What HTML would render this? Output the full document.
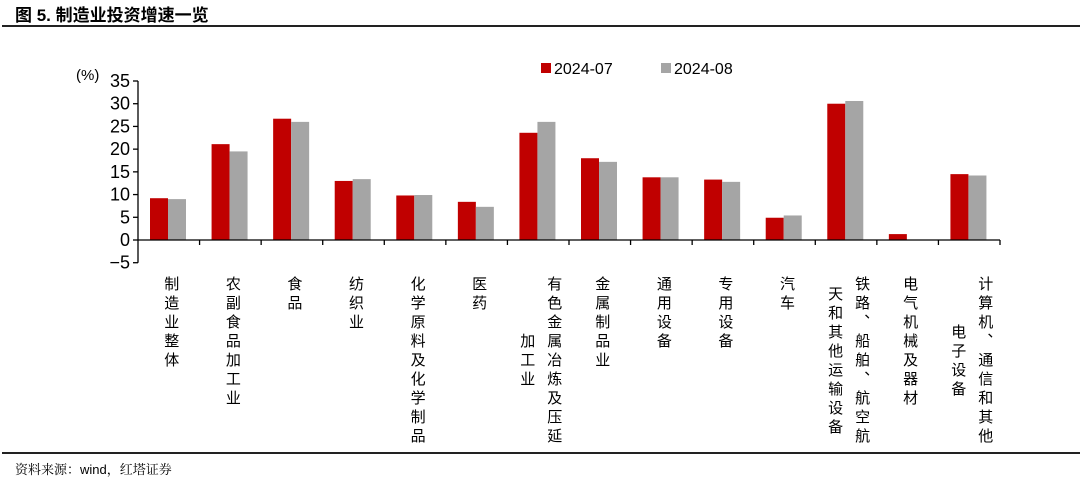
<!DOCTYPE html>
<html><head><meta charset="utf-8">
<style>
body{margin:0;width:1080px;height:479px;background:#fff;font-family:"Liberation Sans","Noto Sans CJK SC",sans-serif;position:relative;overflow:hidden}
.title{position:absolute;left:15px;top:1px;font-size:17px;font-weight:bold;color:#000}
.hr{position:absolute;left:2px;width:1078px;height:2px;background:#222}
.src{position:absolute;left:15px;top:459px;font-size:13px;color:#000;font-family:"Liberation Sans","Noto Serif CJK SC",serif}
.lab{position:absolute;top:276px;writing-mode:vertical-rl;text-align:center;font-size:15px;letter-spacing:4px;line-height:27px;color:#000;white-space:pre}
</style></head><body>
<div class="title">图 5. 制造业投资增速一览</div>
<div class="hr" style="top:25px"></div>
<div class="hr" style="top:452px"></div>
<div class="src">资料来源：wind，红塔证券</div>
<svg id="chart" width="1080" height="479" style="position:absolute;left:0;top:0"></svg>
<div id="labels"></div>
<script>
const categories=["制造业整体","农副食品加工业","食品","纺织业","化学原料及化学制品","医药","有色金属冶炼及压延\n加工业","金属制品业","通用设备","专用设备","汽车","铁路、船舶、航空航\n天和其他运输设备","电气机械及器材","计算机、通信和其他\n电子设备"];
const seriesNames=["2024-07","2024-08"];
const s2407=[9.2,21.1,26.7,13.0,9.8,8.4,23.6,18.0,13.8,13.3,4.9,30.0,1.3,14.5];
const s2408=[9.0,19.5,26.0,13.4,9.9,7.3,26.0,17.2,13.8,12.8,5.4,30.6,0.1,14.2];
const yTicks=[-5,0,5,10,15,20,25,30,35];
const colors=["#C00000","#A5A5A5"];
const NS="http://www.w3.org/2000/svg";
const svg=document.getElementById("chart");
const x0=138,x1=1000,band=(x1-x0)/categories.length;
const y=v=>240-(v)*(240-81)/35;
const bx=i=>x0+i*band;
function mk(tag,attrs){const e=document.createElementNS(NS,tag);for(const k in attrs)e.setAttribute(k,attrs[k]);svg.appendChild(e);return e;}
let ax=mk("line",{x1:x0,y1:y(35),x2:x0,y2:y(-5),stroke:"#000","stroke-width":1.3});


yTicks.forEach(t=>{
  let l=mk("line",{x1:x0-5,y1:y(t),x2:x0,y2:y(t),stroke:"#000","stroke-width":1.3});
  
  
  let tx=mk("text",{x:x0-8,y:y(t)+6,"text-anchor":"end","font-size":"18","font-family":"Liberation Sans, sans-serif"});
  tx.textContent=t<0?"−"+Math.abs(t):t;
  
  
});
let u=mk("text",{x:76,y:80,"font-size":"15","font-family":"Liberation Sans, Noto Sans CJK SC, sans-serif"});
u.textContent="(%)";


[s2407,s2408].forEach((s,si)=>{
  s.forEach((v,i)=>{
    const top=Math.min(y(v),y(0)),h=Math.abs(y(v)-y(0));
    let r=mk("rect",{x:bx(i)+12+si*18,y:top,width:18,height:Math.max(h,0.5),fill:colors[si]});
    
    
  });
});
let xa=mk("line",{x1:x0,y1:y(0),x2:x1,y2:y(0),stroke:"#000","stroke-width":1.3});


for(let i=1;i<=categories.length;i++){
  let t=mk("line",{x1:bx(i),y1:y(0),x2:bx(i),y2:y(0)+5,stroke:"#000","stroke-width":1.3});
  
  
}
seriesNames.forEach((n,si)=>{
  const lx=541+si*120;
  let r=mk("rect",{x:lx,y:63,width:10,height:10,fill:colors[si]});
  
  
  let t=mk("text",{x:lx+13,y:74,"font-size":"16","font-family":"Liberation Sans, sans-serif"});
  t.textContent=n;
  
  
});
const lw=document.getElementById("labels");
categories.forEach((c,i)=>{
  const d=document.createElement("div");
  d.className="lab";
  d.textContent=c;
  
  
  lw.appendChild(d);
  const w=d.offsetWidth;
  d.style.left=(bx(i)+band/2-w/2+2)+"px";
});
</script>
</body></html>
